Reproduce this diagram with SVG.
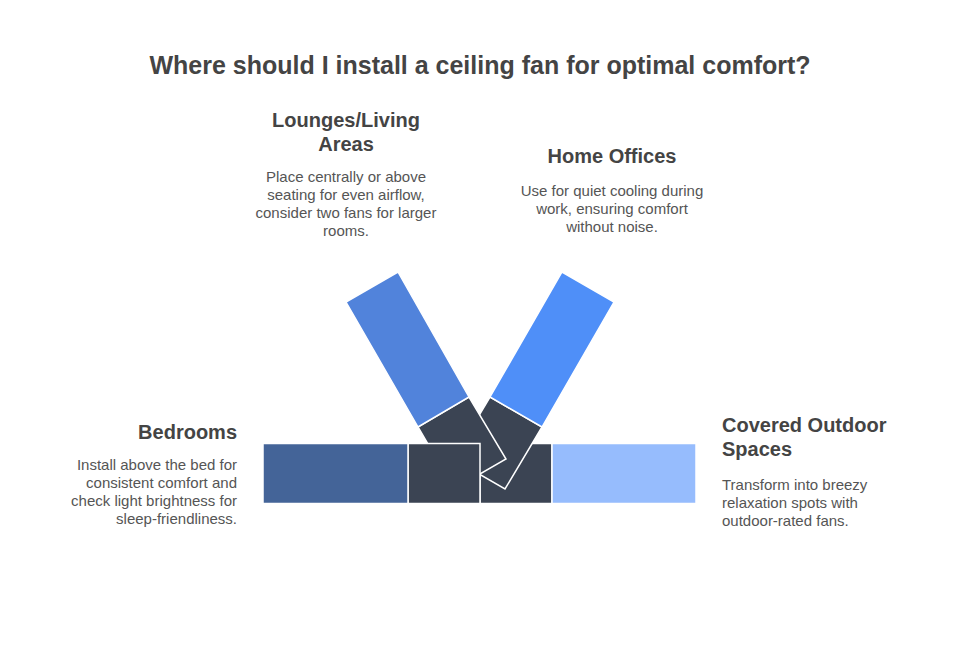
<svg xmlns="http://www.w3.org/2000/svg" width="960" height="661" viewBox="0 0 960 661">
<style>
.t{font-family:"Liberation Sans",Arial,sans-serif;font-weight:bold;font-size:25px;fill:#444444;text-anchor:middle}
.h{font-family:"Liberation Sans",Arial,sans-serif;font-weight:bold;font-size:20px;fill:#444444}
.b{font-family:"Liberation Sans",Arial,sans-serif;font-size:15px;fill:#555555}
.s{stroke:#ffffff;stroke-width:1.5;stroke-linejoin:miter}
.dk{fill:#3b4453}
</style>
<rect width="960" height="661" fill="#ffffff"/>
<text class="t" x="480" y="74">Where should I install a ceiling fan for optimal comfort?</text>
<g id="connectors">
<rect class="s dk" x="480" y="443.5" width="72" height="60"/>
<polygon class="s dk" points="490,397 542,427 505,489 453,459"/>
<polygon class="s dk" points="418,427 469,397 506,459 454,489"/>
<rect class="s dk" x="408" y="443.5" width="72" height="60"/>
</g>
<g id="bedrooms">
<rect class="s" x="263" y="443.5" width="145" height="60" fill="#446498"/>
<text class="h" x="237" y="439" text-anchor="end">Bedrooms</text>
<text class="b" text-anchor="end"><tspan x="237" y="470">Install above the bed for</tspan><tspan x="237" y="488">consistent comfort and</tspan><tspan x="237" y="506">check light brightness for</tspan><tspan x="237" y="524">sleep-friendliness.</tspan></text>
</g>
<g id="lounges">
<polygon class="s" points="346,302 398,272 469,397 418,427" fill="#5183db"/>
<text class="h" text-anchor="middle"><tspan x="346" y="127">Lounges/Living</tspan><tspan x="346" y="151">Areas</tspan></text>
<text class="b" text-anchor="middle"><tspan x="346" y="182">Place centrally or above</tspan><tspan x="346" y="200">seating for even airflow,</tspan><tspan x="346" y="218">consider two fans for larger</tspan><tspan x="346" y="236">rooms.</tspan></text>
</g>
<g id="home-offices">
<polygon class="s" points="562,272 614,302 542,427 490,397" fill="#4f8ff8"/>
<text class="h" x="612" y="163" text-anchor="middle">Home Offices</text>
<text class="b" text-anchor="middle"><tspan x="612" y="196">Use for quiet cooling during</tspan><tspan x="612" y="214">work, ensuring comfort</tspan><tspan x="612" y="232">without noise.</tspan></text>
</g>
<g id="outdoor">
<rect class="s" x="552" y="443.5" width="144" height="60" fill="#96bcfd"/>
<text class="h"><tspan x="722" y="432">Covered Outdoor</tspan><tspan x="722" y="456">Spaces</tspan></text>
<text class="b"><tspan x="722" y="490">Transform into breezy</tspan><tspan x="722" y="508">relaxation spots with</tspan><tspan x="722" y="526">outdoor-rated fans.</tspan></text>
</g>
</svg>
